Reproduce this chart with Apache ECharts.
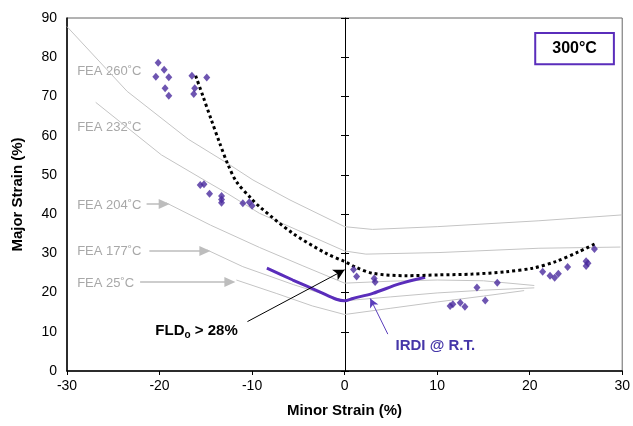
<!DOCTYPE html>
<html><head><meta charset="utf-8">
<script src="https://cdn.jsdelivr.net/npm/echarts@6/dist/echarts.min.js"></script>
<style>html,body{margin:0;padding:0;background:#fff}#c{width:633px;height:426px}</style>
</head><body><div id="c"></div>
<script>
// ---- data ----
const xTicks = [-30,-20,-10,0,10,20,30];
const yTicks = [0,10,20,30,40,50,60,70,80,90];
const measured = [
  [-20.15,78.6],[-19.5,76.8],[-20.4,75.0],[-19.0,74.9],[-19.4,72.1],[-19.0,70.2],
  [-16.5,75.3],[-14.9,74.8],[-16.2,72.1],[-16.3,70.6],
  [-15.6,47.4],[-15.2,47.6],[-14.6,45.2],[-13.3,44.6],[-13.3,43.7],[-13.3,42.9],
  [-11.0,42.8],[-10.3,43.0],[-10.0,42.1],
  [0.97,25.9],[1.3,24.1],[3.2,23.6],[3.3,22.7],
  [11.4,16.6],[11.7,17.0],[12.5,17.4],[13.0,16.4],[14.3,21.3],[15.2,18.0],[16.5,22.5],
  [21.4,25.3],[22.2,24.3],[22.7,23.8],[23.1,24.8],[24.1,26.5],
  [26.1,28.0],[26.3,27.5],[26.1,26.8],[27.0,31.1]
];
const fld300 = [
  [-16.1,75.3],[-15.3,70.0],[-14.4,64.0],[-13.5,58.1],[-12.6,52.6],[-11.7,48.3],
  [-10.1,44.0],[-9.2,41.9],[-5.6,35.1],[-2.0,30.0],[0,27.9],[1.26,26.4],[3.05,24.9],
  [6.6,24.3],[10.2,24.5],[13.8,24.7],[17.4,25.3],[20.3,26.2],[22.8,27.9],[25.3,30.4],[27.3,32.7]
];
const irdiRT = [[-8.4,26.2],[-5.6,23.2],[-2.7,20.2],[-0.9,18.3],[0,17.9],[0.9,18.5],[3.05,19.8],[5.9,22.2],[8.7,23.9]];
const fea260 = [[-30,87.8],[-23.5,71.3],[-16.9,59.1],[-12.7,53.0],[-9.9,48.7],[-5.9,43.6],[0,36.8],[3,36.1],[10,36.8],[21,38.3],[30,39.8]];
const fea232 = [[-26.9,68.5],[-19.8,55.1],[-14.9,48.3],[-12.7,45.3],[-9.2,40.2],[0,30.6],[2.3,29.8],[10.2,30.2],[21,31.3],[29.8,31.6]];
const fea204 = [[-19.3,42.9],[-14.5,37.2],[-9.2,31.5],[-4.5,26.8],[0,22.4],[5,22.9],[10,23.2],[15,23.0],[20.5,21.8]];
const fea177 = [[-14.9,30.9],[-11.0,26.6],[-5.5,22.0],[0,17.9],[5,18.9],[10,19.9],[15,20.6],[20.5,21.2]];
const fea25  = [[-11.7,23.2],[-7.4,19.8],[-3.5,16.6],[0,14.4],[5,16.0],[10,17.6],[15,19.1],[19.4,20.5]];
const feaLabels = [["FEA 260˚C",-28.9,76.4],["FEA 232˚C",-28.9,62.2],["FEA 204˚C",-28.9,42.3],["FEA 177˚C",-28.9,30.6],["FEA 25˚C",-28.9,22.4]];
const grayArrows = [[[-21.4,42.6],[-19.5,42.6]],[[-21.1,30.6],[-15.1,30.6]],[[-22.1,22.7],[-12.4,22.7]]];
const fldArrow = [[-10.5,12.6],[0,25.8]];
const irdiArrow = [[4.67,9.4],[2.77,18.5]];
// ---- chart ----
const FONT = "'Liberation Sans', Arial, Helvetica, sans-serif";
const chart = echarts.init(document.getElementById('c'));
const gray = '#c4c4c4';
function feaSeries(d){return {type:'line',data:d,symbol:'none',silent:true,lineStyle:{color:gray,width:1},z:1};}
const option = {
  animation:false,
  grid:{left:67,right:9,top:18,bottom:55,show:true,borderColor:'#666',borderWidth:1},
  xAxis:{type:'value',min:-30,max:30,interval:10,
    axisLine:{onZero:false,lineStyle:{color:'#000',width:1.5}},
    axisTick:{show:true,length:4,lineStyle:{color:'#000'}},
    splitLine:{show:false},
    axisLabel:{color:'#000',fontSize:14,fontFamily:FONT,margin:8},
    name:'Minor Strain (%)',nameLocation:'middle',nameGap:32,
    nameTextStyle:{color:'#000',fontSize:15,fontWeight:'bold',fontFamily:FONT}},
  yAxis:[{type:'value',min:0,max:90,interval:10,
    axisLine:{show:true,onZero:false,lineStyle:{color:'#000',width:1.5}},
    axisTick:{show:false},splitLine:{show:false},
    axisLabel:{color:'#000',fontSize:14,fontFamily:FONT,margin:10},
    name:'Major Strain (%)',nameLocation:'middle',nameGap:42,
    nameTextStyle:{color:'#000',fontSize:15,fontWeight:'bold',fontFamily:FONT}},
   {type:'value',min:0,max:90,interval:10,position:'left',offset:-278,
    axisLine:{show:true,onZero:false,lineStyle:{color:'#000',width:1}},
    axisTick:{show:true,length:4,inside:false,lineStyle:{color:'#000'}},
    axisLabel:{show:false},splitLine:{show:false}},
   {type:'value',min:0,max:90,interval:10,position:'left',offset:-278,
    axisLine:{show:false},
    axisTick:{show:true,length:4,inside:true,lineStyle:{color:'#000'}},
    axisLabel:{show:false},splitLine:{show:false}}
  ],
  series:[
    feaSeries(fea260),feaSeries(fea232),feaSeries(fea204),feaSeries(fea177),feaSeries(fea25),
    {type:'line',data:irdiRT,symbol:'none',smooth:0.3,lineStyle:{color:'#5a2dbb',width:3},z:3},
    {type:'line',data:fld300,symbol:'none',smooth:0.3,lineStyle:{color:'#000',width:3,type:[3,3],cap:'butt'},z:4},
    {type:'scatter',data:measured,symbol:'diamond',symbolSize:[7,8],itemStyle:{color:'#4a2a9e'},z:5},
    {type:'line',data:[],silent:true,z:6,
     markLine:{silent:true,animation:false,precision:3,label:{show:false},
      data:[
        ...grayArrows.map(a=>[{coord:a[0],symbol:'none',lineStyle:{color:'#bdbdbd',width:1.5,type:'solid'}},{coord:a[1],symbol:'triangle',symbolSize:[10,11],symbolRotate:-90}]),
        [{coord:fldArrow[0],symbol:'none',lineStyle:{color:'#000',width:1,type:'solid'}},{coord:fldArrow[1],symbol:'arrow',symbolSize:[9,11]}],
        [{coord:irdiArrow[0],symbol:'none',lineStyle:{color:'#5a3dbb',width:1,type:'solid'}},{coord:irdiArrow[1],symbol:'arrow',symbolSize:[7,9]}]
      ]}}
  ]
};
chart.setOption(option);
function px(x,y){return chart.convertToPixel({gridIndex:0},[x,y]);}
const g = [];
feaLabels.forEach(l=>{const p=px(l[1],l[2]);g.push({type:'text',x:p[0],y:p[1],style:{text:l[0],fill:'#a8a8a8',font:'13px '+FONT,textVerticalAlign:'middle'}});});
let p = px(-16.0,10.2);
g.push({type:'text',x:p[0],y:p[1],style:{text:'{a|FLD}{s|o}{a| > 28%}',rich:{a:{fontSize:15,fontWeight:'bold',fontFamily:FONT,fill:'#000',color:'#000'},s:{fontSize:10,fontWeight:'bold',fontFamily:FONT,color:'#000',padding:[8,0,0,0]}},textAlign:'center',textVerticalAlign:'middle'}});
p = px(9.8,6.4);
g.push({type:'text',x:p[0],y:p[1],style:{text:'IRDI @ R.T.',fill:'#4536a8',font:'bold 15px '+FONT,textAlign:'center',textVerticalAlign:'middle'}});
const b1 = px(20.6,86.2), b2 = px(29.1,78.2);
g.push({type:'rect',shape:{x:b1[0],y:b1[1],width:b2[0]-b1[0],height:b2[1]-b1[1]},style:{fill:'#fff',stroke:'#5a2dbb',lineWidth:2},z:100});
g.push({type:'text',x:(b1[0]+b2[0])/2,y:(b1[1]+b2[1])/2,style:{text:'300°C',fill:'#000',font:'bold 16px '+FONT,textAlign:'center',textVerticalAlign:'middle'},z:101});
chart.setOption({graphic:g});
</script></body></html>
